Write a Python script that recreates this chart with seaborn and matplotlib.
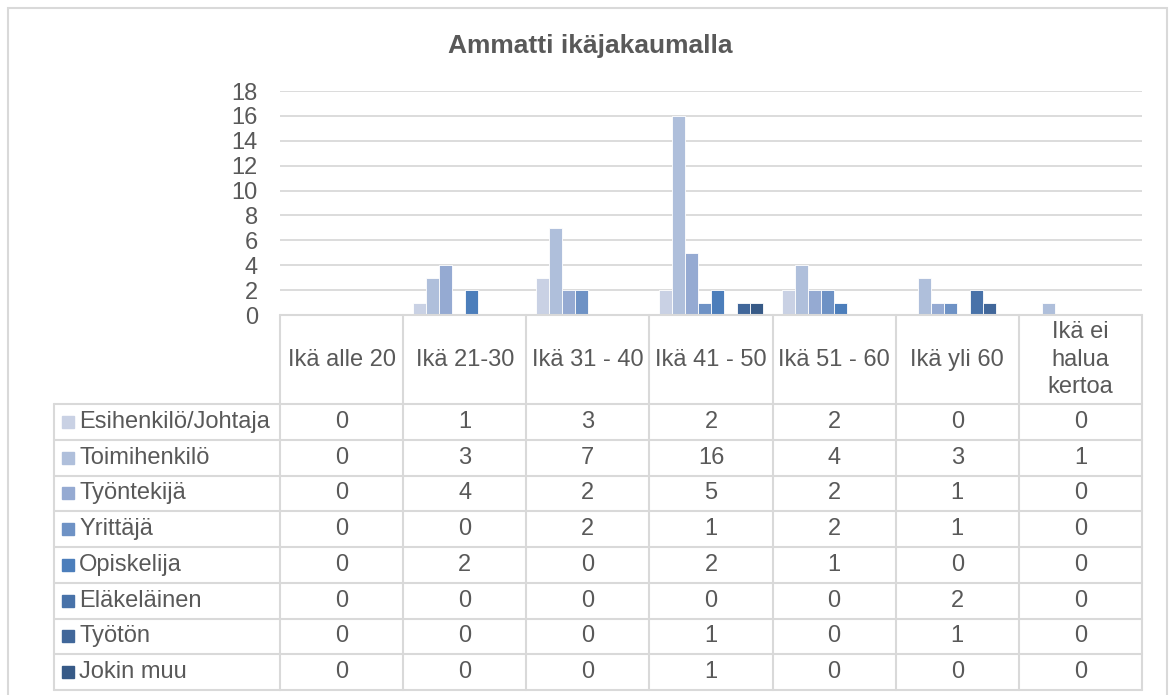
import seaborn as sns
import matplotlib.pyplot as plt
import pandas as pd
from matplotlib.patches import Rectangle
from matplotlib.lines import Line2D
from matplotlib.transforms import blended_transform_factory

# data
age_groups = ["Ikä alle 20", "Ikä 21-30", "Ikä 31 - 40", "Ikä 41 - 50",
              "Ikä 51 - 60", "Ikä yli 60", "Ikä ei\nhalua\nkertoa"]
occupations = ["Esihenkilö/Johtaja", "Toimihenkilö", "Työntekijä", "Yrittäjä",
               "Opiskelija", "Eläkeläinen", "Työtön", "Jokin muu"]
esihenkilo = [0, 1, 3, 2, 2, 0, 0]
toimihenkilo = [0, 3, 7, 16, 4, 3, 1]
tyontekija = [0, 4, 2, 5, 2, 1, 0]
yrittaja = [0, 0, 2, 1, 2, 1, 0]
opiskelija = [0, 2, 0, 2, 1, 0, 0]
elakelainen = [0, 0, 0, 0, 0, 2, 0]
tyoton = [0, 0, 0, 1, 0, 1, 0]
jokin_muu = [0, 0, 0, 1, 0, 0, 0]
series = [esihenkilo, toimihenkilo, tyontekija, yrittaja,
          opiskelija, elakelainen, tyoton, jokin_muu]
colors = ["#C9D1E4", "#AFBFDB", "#95AAD2", "#6E92C5",
          "#4C7EBB", "#4872A9", "#41679A", "#375A87"]

rows = []
for occ, vals in zip(occupations, series):
    for age, v in zip(age_groups, vals):
        rows.append({"ika": age, "ammatti": occ, "lkm": v})
df = pd.DataFrame(rows)

sns.set_style("white")
plt.rcParams["font.family"] = ["Liberation Sans", "DejaVu Sans"]
text_col = "#595959"
line_col = "#D9D9D9"

W, H = 1173, 695
fig = plt.figure(figsize=(W / 100, H / 100), dpi=100)
fy = lambda y: 1 - y / H
fx = lambda x: x / W

ax = fig.add_axes([fx(280), fy(315), fx(1142) - fx(280), fy(91) - fy(315)])
sns.barplot(data=df, x="ika", y="lkm", hue="ammatti", order=age_groups,
            hue_order=occupations, palette=colors, saturation=1,
            width=8 / 9.5, gap=0, edgecolor="white", linewidth=0.6,
            legend=False, ax=ax)
ax.set_xlim(-0.5, len(age_groups) - 0.5)
ax.set_ylim(0, 18)
ax.set_yticks(range(0, 19, 2))
ax.yaxis.grid(True, color=line_col, linewidth=1.3)
ax.set_axisbelow(True)
for s in ax.spines.values():
    s.set_visible(False)
ax.set_xticks([])
ax.set_xlabel("")
ax.set_ylabel("")
ax.tick_params(axis="y", length=0, pad=16, labelsize=17, labelcolor=text_col)

fig.text(fx(590), fy(46), "Ammatti ikäjakaumalla", fontsize=19,
         fontweight="bold", color=text_col, ha="center", va="center")

# data table
tr = blended_transform_factory(ax.transData, fig.transFigure)
head_top, head_bot = 315, 404
row_h = (690 - head_bot) / len(occupations)
lw = 1.5

for i in range(len(age_groups) + 1):
    fig.add_artist(Line2D([i - 0.5, i - 0.5], [fy(head_top), fy(690)],
                          transform=tr, color=line_col, lw=lw))
fig.add_artist(Line2D([-0.5, len(age_groups) - 0.5], [fy(head_top), fy(head_top)],
                      transform=tr, color=line_col, lw=lw))
fig.add_artist(Line2D([fx(54), fx(54)], [fy(head_bot), fy(690)],
                      transform=fig.transFigure, color=line_col, lw=lw))
for k in range(len(occupations) + 1):
    y = head_bot + k * row_h
    fig.add_artist(Line2D([fx(54), fx(280)], [fy(y), fy(y)],
                          transform=fig.transFigure, color=line_col, lw=lw))
    fig.add_artist(Line2D([-0.5, len(age_groups) - 0.5], [fy(y), fy(y)],
                          transform=tr, color=line_col, lw=lw))

for i, age in enumerate(age_groups):
    fig.text(i, fy((head_top + head_bot) / 2), age, transform=tr, fontsize=17,
             color=text_col, ha="center", va="center", linespacing=1.35)

for k, (occ, vals, c) in enumerate(zip(occupations, series, colors)):
    yc = head_bot + (k + 0.5) * row_h
    fig.add_artist(Rectangle((fx(62), fy(yc + 6)), fx(12), 12 / H,
                             transform=fig.transFigure, color=c))
    fig.text(fx(79), fy(yc), occ, fontsize=17, color=text_col,
             ha="left", va="center")
    for i, v in enumerate(vals):
        fig.text(i, fy(yc), str(v), transform=tr, fontsize=17,
                 color=text_col, ha="center", va="center")

# chart frame
fig.add_artist(Rectangle((fx(8), fy(700)), fx(1167) - fx(8), (700 - 8) / H,
                         transform=fig.transFigure, fill=False,
                         edgecolor=line_col, lw=1.5))

fig.savefig("out.png", dpi=100, facecolor="white")
